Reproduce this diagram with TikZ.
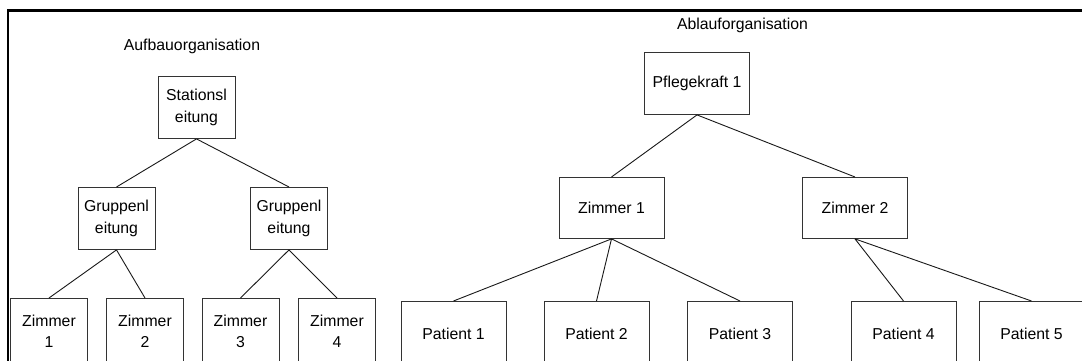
\documentclass[tikz,border=0pt]{standalone}
\usepackage{fontspec}
\setmainfont{Liberation Sans}
\begin{document}
\begin{tikzpicture}[x=1pt,y=-1pt,
  box/.style={draw=black!80, line width=0.9pt, fill=white, inner sep=0pt,
    align=center, anchor=north, font=\fontsize{15.8}{21.5}\selectfont},
  smallbox/.style={box, minimum width=77pt, minimum height=62pt},
  widebox/.style={box, minimum width=105pt, minimum height=62pt},
  leafbox/.style={box, minimum width=77pt, minimum height=66pt},
  patbox/.style={box, minimum width=105pt, minimum height=64pt},
  link/.style={draw=black!90, line width=0.9pt},
  title/.style={font=\fontsize{15.8}{19}\selectfont, anchor=base, inner sep=0pt}]
\clip (0,0) rectangle (1082,361);
\fill[white] (0,0) rectangle (1082,361);
% frame along the top and left edges
\draw[line width=2.5pt] (8,370) -- (8,10.7) -- (1090,10.7);

% ---- Aufbauorganisation ----
\node[title] (tAuf) at (192,50.5) {Aufbauorganisation};
\node[smallbox] (stat) at (196.5,76) {Stationsl\\eitung};
\node[smallbox] (grA) at (116.5,187) {Gruppenl\\eitung};
\node[smallbox] (grB) at (289,187) {Gruppenl\\eitung};
\node[leafbox] (zA1) at (49,298) {Zimmer\\1};
\node[leafbox] (zA2) at (145,298) {Zimmer\\2};
\node[leafbox] (zA3) at (240.5,298) {Zimmer\\3};
\node[leafbox] (zA4) at (337,298) {Zimmer\\4};

\draw[link] (stat.south) -- (grA.north);
\draw[link] (stat.south) -- (grB.north);
\draw[link] (grA.south) -- (zA1.north);
\draw[link] (grA.south) -- (zA2.north);
\draw[link] (grB.south) -- (zA3.north);
\draw[link] (grB.south) -- (zA4.north);

% ---- Ablauforganisation ----
\node[title] (tAbl) at (742.5,29.5) {Ablauforganisation};
\node[widebox] (pk) at (697,52) {Pflegekraft 1};
\node[widebox, minimum height=61pt] (zB1) at (611.5,177) {Zimmer 1};
\node[widebox, minimum height=61pt] (zB2) at (855,177) {Zimmer 2};
\node[patbox] (p1) at (453.5,301) {Patient 1};
\node[patbox] (p2) at (596.5,301) {Patient 2};
\node[patbox] (p3) at (740,301) {Patient 3};
\node[patbox] (p4) at (903.5,301) {Patient 4};
\node[patbox] (p5) at (1031.5,301) {Patient 5};

\draw[link] (pk.south) -- (zB1.north);
\draw[link] (pk.south) -- (zB2.north);
\draw[link] (zB1.south) -- (p1.north);
\draw[link] (zB1.south) -- (p2.north);
\draw[link] (zB1.south) -- (p3.north);
\draw[link] (zB2.south) -- (p4.north);
\draw[link] (zB2.south) -- (p5.north);
\end{tikzpicture}
\end{document}
